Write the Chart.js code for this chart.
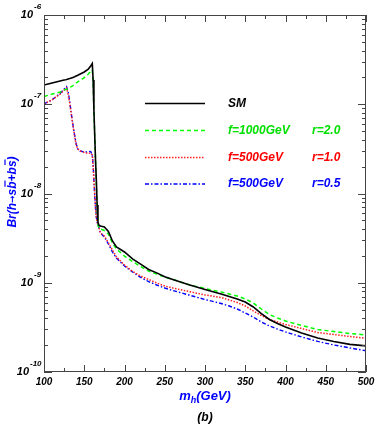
<!DOCTYPE html>
<html><head><meta charset="utf-8">
<script src="https://cdn.jsdelivr.net/npm/chart.js@4/dist/chart.umd.min.js"></script>
<style>html,body{margin:0;padding:0;background:#fff}canvas{display:block}</style>
</head><body>
<canvas id="c" width="382" height="432"></canvas>
<script>
// Higgs mass (GeV)
const masses = [100,110,120,125,127,128,130,132,134,136,138,140,142,145,150,155,158,160,161,162,163,164,165,166,167,168,170,175,180,185,190,200,210,220,230,240,250,260,280,300,320,330,340,350,360,370,380,390,400,420,440,460,480,500];
// Br(h -> s bbar + b sbar)
const brSM = [1.64e-7,1.73e-7,1.82e-7,1.87e-7,1.88e-7,1.89e-7,1.92e-7,1.94e-7,1.97e-7,2.00e-7,2.03e-7,2.07e-7,2.11e-7,2.18e-7,2.30e-7,2.48e-7,2.68e-7,2.86e-7,1.87e-7,8.62e-8,4.52e-8,2.37e-8,1.42e-8,7.43e-9,4.80e-9,4.44e-9,4.32e-9,4.21e-9,3.75e-9,2.94e-9,2.52e-9,2.21e-9,1.85e-9,1.62e-9,1.41e-9,1.29e-9,1.17e-9,1.09e-9,9.51e-10,8.40e-10,7.48e-10,7.01e-10,6.58e-10,6.08e-10,5.35e-10,4.52e-10,3.88e-10,3.50e-10,3.19e-10,2.74e-10,2.40e-10,2.20e-10,2.04e-10,1.96e-10];
const brF1000R20 = [1.22e-7,1.30e-7,1.37e-7,1.44e-7,1.46e-7,1.47e-7,1.50e-7,1.54e-7,1.58e-7,1.62e-7,1.67e-7,1.73e-7,1.78e-7,1.85e-7,1.99e-7,2.18e-7,2.33e-7,2.42e-7,1.78e-7,8.62e-8,4.52e-8,2.37e-8,1.35e-8,7.06e-9,4.55e-9,4.11e-9,4.00e-9,3.85e-9,3.52e-9,2.79e-9,2.39e-9,1.99e-9,1.73e-9,1.52e-9,1.35e-9,1.25e-9,1.16e-9,1.09e-9,9.51e-10,8.62e-10,7.88e-10,7.48e-10,7.11e-10,6.58e-10,5.93e-10,5.08e-10,4.41e-10,4.03e-10,3.73e-10,3.32e-10,2.99e-10,2.84e-10,2.70e-10,2.60e-10];
const brF500R10 = [1.01e-7,1.12e-7,1.30e-7,1.44e-7,1.50e-7,1.52e-7,1.30e-7,1.03e-7,7.58e-8,5.71e-8,4.41e-8,3.50e-8,3.15e-8,2.99e-8,2.88e-8,2.81e-8,2.84e-8,2.70e-8,2.09e-8,1.42e-8,9.62e-9,6.88e-9,5.45e-9,4.80e-9,4.55e-9,4.32e-9,3.61e-9,3.34e-9,2.79e-9,2.33e-9,1.94e-9,1.58e-9,1.34e-9,1.19e-9,1.09e-9,9.94e-10,9.20e-10,8.73e-10,7.98e-10,7.29e-10,6.83e-10,6.41e-10,6.01e-10,5.49e-10,4.83e-10,4.30e-10,3.88e-10,3.63e-10,3.41e-10,3.07e-10,2.77e-10,2.63e-10,2.50e-10,2.39e-10];
const brF500R05 = [1.01e-7,1.12e-7,1.32e-7,1.48e-7,1.56e-7,1.58e-7,1.37e-7,1.06e-7,7.78e-8,5.86e-8,4.52e-8,3.59e-8,3.15e-8,2.99e-8,2.92e-8,2.92e-8,2.96e-8,2.70e-8,2.09e-8,1.42e-8,9.62e-9,6.88e-9,5.45e-9,4.80e-9,4.55e-9,4.21e-9,3.61e-9,3.26e-9,2.72e-9,2.21e-9,1.89e-9,1.54e-9,1.32e-9,1.15e-9,1.03e-9,9.44e-10,8.73e-10,8.19e-10,7.29e-10,6.49e-10,5.86e-10,5.49e-10,5.08e-10,4.58e-10,4.13e-10,3.63e-10,3.28e-10,3.03e-10,2.81e-10,2.47e-10,2.20e-10,2.01e-10,1.86e-10,1.73e-10];

const xTickLabels = ['100','150','200','250','300','350','400','450','500'];
const yTickExponents = ['-6','-7','-8','-9','-10'];
const seriesNames = ['SM','f=1000GeV','f=500GeV','f=500GeV'];
const seriesParams = ['','r=2.0','r=1.0','r=0.5'];
const textColors = ['#000000','#00e000','#ff0000','#0000ff'];

const F = '"Liberation Sans", Arial, Helvetica, sans-serif';
const pts = arr => masses.map((m,i)=>({x:m,y:arr[i]}));

const deco = {
  id:'deco',
  beforeDraw(chart){
    const c = chart.ctx; c.save(); c.fillStyle='#fff'; c.fillRect(0,0,chart.width,chart.height); c.restore();
  },
  afterDraw(chart){
    const ctx = chart.ctx, a = chart.chartArea, xs = chart.scales.x, ys = chart.scales.y;
    ctx.save();
    ctx.strokeStyle = '#444'; ctx.lineWidth = 1;
    const line = (x1,y1,x2,y2)=>{ctx.beginPath();ctx.moveTo(x1,y1);ctx.lineTo(x2,y2);ctx.stroke();};
    ctx.strokeRect(a.left+0.5, a.top+0.5, a.right-a.left-1, a.bottom-a.top-1);
    // x ticks
    for (let v=100; v<=500; v+=25){
      const px = Math.round(xs.getPixelForValue(v))+0.5;
      const len = (v%50===0)?7:4;
      line(px,a.bottom,px,a.bottom-len);
      line(px,a.top,px,a.top+len);
    }
    // y ticks (log)
    for (let e=-10; e<=-6; e++){
      for (let k=1; k<10; k++){
        if (e===-6 && k>1) break;
        const py = Math.round(ys.getPixelForValue(k*Math.pow(10,e)))+0.5;
        const len = (k===1)?8:4;
        line(a.left,py,a.left+len,py);
        line(a.right,py,a.right-len,py);
      }
    }
    // x tick labels
    ctx.fillStyle = '#000';
    ctx.font = 'italic bold 10px '+F;
    ctx.textAlign = 'center'; ctx.textBaseline = 'middle';
    xTickLabels.forEach(t=>{ ctx.fillText(t, xs.getPixelForValue(+t), a.bottom+10); });
    // y tick labels
    yTickExponents.forEach(ex=>{
      const py = ys.getPixelForValue(Math.pow(10,+ex));
      ctx.font = 'italic bold 11px '+F; ctx.textAlign='right'; ctx.textBaseline='middle';
      const right = ex==='-10' ? 29 : 33;
      ctx.fillText('10', right, py);
      ctx.font = 'italic bold 8px '+F; ctx.textAlign='left';
      ctx.fillText(ex, right+1, py-8);
    });
    // x title
    ctx.fillStyle = '#0000ff';
    ctx.font = 'italic bold 13px '+F; ctx.textAlign='left'; ctx.textBaseline='alphabetic';
    const cx = (a.left+a.right)/2;
    const w1 = ctx.measureText('m').width;
    ctx.font = 'italic bold 9px '+F; const w2 = ctx.measureText('h').width;
    ctx.font = 'italic bold 13px '+F; const w3 = ctx.measureText('(GeV)').width;
    let sx = cx - (w1+w2+w3)/2;
    ctx.fillText('m', sx, 400);
    ctx.font = 'italic bold 9px '+F; ctx.fillText('h', sx+w1, 403);
    ctx.font = 'italic bold 13px '+F; ctx.fillText('(GeV)', sx+w1+w2, 400);
    ctx.fillStyle = '#000'; ctx.font = 'italic bold 12px '+F; ctx.textAlign='center';
    ctx.fillText('(b)', cx, 421);
    // y title rotated, drawn in pieces
    ctx.save();
    ctx.translate(16, 192); ctx.rotate(-Math.PI/2);
    ctx.fillStyle = '#0000ff'; ctx.strokeStyle = '#0000ff'; ctx.textBaseline='alphabetic'; ctx.textAlign='left';
    const TF = 'italic bold 12px '+F, AF = 'bold 9px "DejaVu Sans", sans-serif';
    const parts = [['Br(h',TF],['\u2192',AF],['s',TF],['b',TF,1],['+',TF],['b',TF],['s',TF,1],[')',TF]];
    let tw = 0;
    parts.forEach(p=>{ ctx.font=p[1]; p.w = ctx.measureText(p[0]).width; tw += p.w; });
    let px0 = -tw/2;
    parts.forEach(p=>{
      ctx.font = p[1];
      ctx.fillText(p[0], px0, p[1]===AF ? -1 : 0);
      if (p[2]) { ctx.lineWidth = 1.2; ctx.beginPath(); ctx.moveTo(px0+2, -11); ctx.lineTo(px0+p.w+1, -11); ctx.stroke(); }
      px0 += p.w;
    });
    ctx.restore();
    // legend
    const rows = [103.5,130.5,157.5,184];
    chart.data.datasets.forEach((ds,i)=>{
      const yy = rows[i];
      ctx.save();
      ctx.strokeStyle = ds.borderColor; ctx.lineWidth = ds.borderWidth;
      ctx.setLineDash(ds.borderDash||[]);
      line(145, yy, 205, yy);
      ctx.restore();
      ctx.fillStyle = textColors[i]; ctx.font = 'italic bold 12px '+F; ctx.textAlign='left'; ctx.textBaseline='middle';
      ctx.fillText(seriesNames[i], 228, yy);
      if (seriesParams[i]) ctx.fillText(seriesParams[i], 312, yy);
    });
    ctx.restore();
  }
};

new Chart(document.getElementById('c'), {
  type:'line',
  data:{ datasets:[
    {label:'SM', data:pts(brSM), borderColor:'#000000', borderWidth:1.6, pointRadius:0, tension:0, fill:false},
    {label:'f=1000GeV r=2.0', data:pts(brF1000R20), borderColor:'#00ff00', borderWidth:1.5, borderDash:[4,3], pointRadius:0, tension:0, fill:false},
    {label:'f=500GeV r=1.0', data:pts(brF500R10), borderColor:'#ff2020', borderWidth:1.5, borderDash:[1.5,1.5], pointRadius:0, tension:0, fill:false},
    {label:'f=500GeV r=0.5', data:pts(brF500R05), borderColor:'#0000ff', borderWidth:1.4, borderDash:[4,2,1.5,2], pointRadius:0, tension:0, fill:false}
  ]},
  options:{
    responsive:false, animation:false, devicePixelRatio:1,
    layout:{padding:{left:0,right:16,top:15,bottom:0}},
    plugins:{legend:{display:false}, tooltip:{enabled:false}},
    scales:{
      x:{type:'linear', min:100, max:500, ticks:{display:false}, grid:{display:false}, border:{display:false},
         afterFit(s){ s.height = 60; }},
      y:{type:'logarithmic', min:1e-10, max:1e-6, ticks:{display:false}, grid:{display:false}, border:{display:false},
         afterFit(s){ s.width = 44; }}
    }
  },
  plugins:[deco]
});
</script>
</body></html>
